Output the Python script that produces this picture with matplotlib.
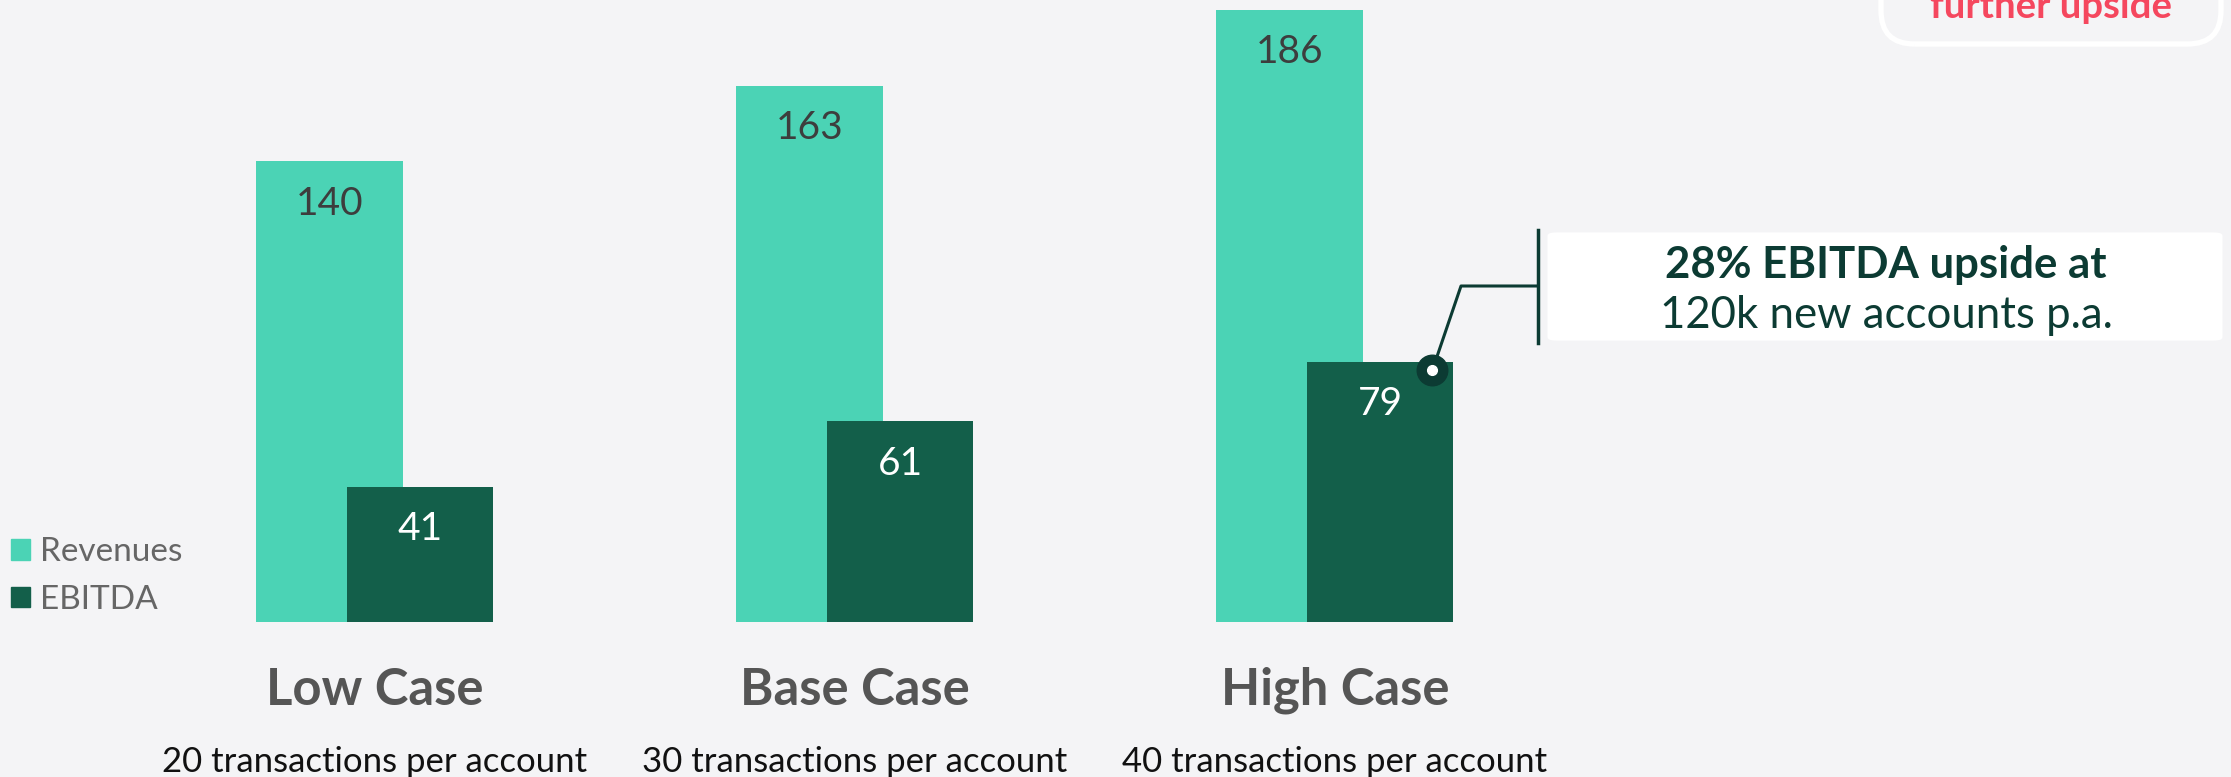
import matplotlib
matplotlib.use("Agg")
import matplotlib.pyplot as plt
import numpy as np
from matplotlib.patches import FancyBboxPatch, Patch
from matplotlib.lines import Line2D

# data
cases = ["Low Case", "Base Case", "High Case"]
subtitles = ["20 transactions per account", "30 transactions per account",
             "40 transactions per account"]
revenues = [140, 163, 186]
ebitda = [41, 61, 79]

BG = "#f4f4f6"
TEAL = "#4bd3b5"
DARK = "#135f4a"
INK = "#0c3b33"

plt.rcParams["font.family"] = ["Lato", "DejaVu Sans"]

W, H = 2231, 777
fig = plt.figure(figsize=(W / 100, H / 100), dpi=100, facecolor=BG)
ax = fig.add_axes([0, 1 - 622 / H, 1, 622 / H])
ax.set_facecolor(BG)
ax.set_xlim(-0.781, 3.867)
ax.set_ylim(0, 189.05)
ax.axis("off")

x = np.arange(len(cases))
w = 0.306
off = 0.094
ax.bar(x - off, revenues, width=w, color=TEAL, label="Revenues", zorder=2)
ax.bar(x + off, ebitda, width=w, color=DARK, label="EBITDA", zorder=3)

for i in range(len(cases)):
    ax.annotate(str(revenues[i]), (x[i] - off, revenues[i]), xytext=(0, -30.5),
                textcoords="offset points", ha="center", va="center",
                fontsize=28, color="#3d3d3d", zorder=4)
    ax.annotate(str(ebitda[i]), (x[i] + off, ebitda[i]), xytext=(0, -30.5),
                textcoords="offset points", ha="center", va="center",
                fontsize=28, color="white", zorder=4)
    ax.annotate(cases[i], (x[i], 0), xytext=(0, -49), textcoords="offset points",
                ha="center", va="center", fontsize=36.5, fontweight="bold",
                color="#555555", annotation_clip=False)
    ax.annotate(subtitles[i], (x[i], 0), xytext=(0, -101), textcoords="offset points",
                ha="center", va="center", fontsize=25, color="#111111",
                annotation_clip=False)

# legend
handles = [Patch(color=TEAL), Patch(color=DARK)]
leg = fig.legend(handles, ["Revenues", "EBITDA"], loc="center left",
                 bbox_to_anchor=(11 / W, 1 - 576 / H), frameon=False,
                 fontsize=24, handlelength=0.58, handleheight=0.58,
                 handletextpad=0.28, labelspacing=0.52, borderaxespad=0,
                 borderpad=0)
for t in leg.get_texts():
    t.set_color("#666666")


def fx(px):
    return px / W


def fy(py):
    return 1 - py / H


# callout on High Case EBITDA
dot_x = x[2] + off + w / 2 - 21 / 480
dot_y = ebitda[2] - 8 / 3.29
dx, dy = fig.transFigure.inverted().transform(ax.transData.transform((dot_x, dot_y)))
fig.add_artist(Line2D([dx, fx(1461), fx(1538)], [dy, fy(286), fy(286)],
                      color=INK, lw=2.2, transform=fig.transFigure, zorder=4))
fig.add_artist(Line2D([fx(1538), fx(1538)], [fy(230), fy(343)],
                      color=INK, lw=2.5, transform=fig.transFigure, zorder=4))
fig.add_artist(Line2D([dx], [dy], marker="o", ms=22, color=INK, lw=0,
                      transform=fig.transFigure, zorder=5))
fig.add_artist(Line2D([dx], [dy], marker="o", ms=7, color="white", lw=0,
                      transform=fig.transFigure, zorder=6))

box = FancyBboxPatch((fx(1552), fy(339)), fx(2218) - fx(1552), fy(234) - fy(339),
                     boxstyle="round,pad=0.002,rounding_size=0.004",
                     transform=fig.transFigure, facecolor="white",
                     edgecolor="none")
fig.add_artist(box)
fig.text(fx(1886), fy(265), "28% EBITDA upside at", ha="center", va="center",
         fontsize=31.5, fontweight="bold", color=INK)
fig.text(fx(1886), fy(315), "120k new accounts p.a.", ha="center", va="center",
         fontsize=31.5, color=INK)

# top-right box (cut off at the top in the original)
top = FancyBboxPatch((fx(1881), fy(44)), fx(2221) - fx(1881), fy(-150) - fy(44),
                     boxstyle="round,pad=0,rounding_size=0.015",
                     transform=fig.transFigure, facecolor="none",
                     edgecolor="white", lw=3.8, mutation_aspect=W / H)
fig.add_artist(top)
fig.text(fx(2051), fy(18), "further upside", ha="center", va="baseline",
         fontsize=27.5, fontweight="bold", color="#f5475e")

fig.savefig("out.png", dpi=100, facecolor=BG)
